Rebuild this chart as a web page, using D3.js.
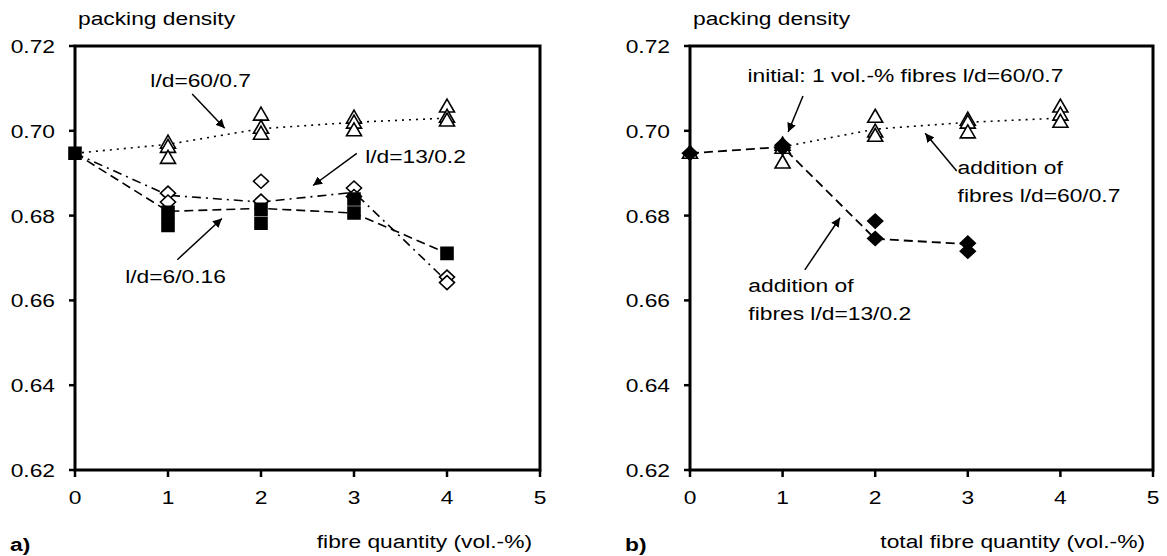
<!DOCTYPE html>
<html>
<head>
<meta charset="utf-8">
<script src="https://cdn.jsdelivr.net/npm/d3@7"></script>
<style>
  body { margin: 0; background: #fff; }
  text { font-family: Arial, "Liberation Sans", sans-serif; fill: #000; }
</style>
</head>
<body>
<div id="chart"></div>
<script>
// packing density vs fibre quantity, two panels

const xTicks = [0, 1, 2, 3, 4, 5];
const yTicks = [0.62, 0.64, 0.66, 0.68, 0.70, 0.72];
const yTickLabels = ["0.62", "0.64", "0.66", "0.68", "0.70", "0.72"];

// panel a) measured points [x, density]
const tri60 = [[1, 0.6971], [1, 0.6961], [1, 0.6935], [2, 0.7037], [2, 0.7006], [2, 0.6992],
  [3, 0.7030], [3, 0.7018], [3, 0.7000], [4, 0.7056], [4, 0.7032], [4, 0.7023]];
const dia13 = [[1, 0.6853], [1, 0.6832], [2, 0.6881], [2, 0.6834], [3, 0.6865], [3, 0.6845],
  [4, 0.6655], [4, 0.6642]];
const sq6 = [[0, 0.6947], [1, 0.6808], [1, 0.6777], [2, 0.6815], [2, 0.6782], [3, 0.6839],
  [3, 0.6806], [4, 0.6711]];
// panel a) trend lines
const lineXa = [0, 1, 2, 3, 4];
const line60 = [0.6947, 0.6968, 0.7005, 0.7020, 0.7030];
const line13 = [0.6947, 0.6848, 0.6832, 0.6855, 0.6645];
const line6 = [0.6947, 0.6810, 0.6817, 0.6806, 0.6711];

// panel b) measured points
const triB = [[0, 0.6947], [1, 0.6966], [1, 0.6959], [1, 0.6924], [2, 0.7032], [2, 0.6997],
  [2, 0.6987], [3, 0.7025], [3, 0.7018], [3, 0.6995], [4, 0.7056], [4, 0.7037], [4, 0.7020]];
const diaB = [[0, 0.6947], [1, 0.6966], [1, 0.6960], [2, 0.6787], [2, 0.6746], [3, 0.6735],
  [3, 0.6716]];
// panel b) trend lines
const lineXb60 = [1, 2, 3, 4];
const lineB60 = [0.6962, 0.7004, 0.7020, 0.7030];
const lineXb13 = [0, 1, 2, 3];
const lineB13 = [0.6947, 0.6962, 0.6745, 0.6733];

const W = 1167, H = 556;
const stretch = 1.2; // text in the original is a bit widened

const svg = d3.select("#chart").append("svg")
  .attr("width", W).attr("height", H);

function label(g, x, y, str, opts = {}) {
  const t = g.append("text")
    .attr("transform", `translate(${x},${y}) scale(${stretch},1)`)
    .attr("text-anchor", opts.anchor || "start")
    .style("font-size", (opts.size || 19) + "px")
    .text(str);
  if (opts.bold) t.style("font-weight", "bold");
  return t;
}

svg.append("defs").append("marker")
  .attr("id", "arr")
  .attr("viewBox", "0 0 10 10")
  .attr("refX", 10).attr("refY", 5)
  .attr("markerWidth", 9).attr("markerHeight", 9)
  .attr("markerUnits", "userSpaceOnUse")
  .attr("orient", "auto")
  .append("path").attr("d", "M0,0 L10,5 L0,10 Z").attr("fill", "#000");

const triPath = "M0,-8 L7.5,5 L-7.5,5 Z";
const diaPath = "M0,-7 L7.5,0 L0,7 L-7.5,0 Z";
const sqPath = "M-6,-6 L6,-6 L6,6 L-6,6 Z";

function panel(left, right, title, tag) {
  const g = svg.append("g");
  const x = d3.scaleLinear().domain([0, 5]).range([left, right]);
  const y = d3.scaleLinear().domain([0.62, 0.72]).range([470, 46]);

  // ticks
  g.selectAll(".yt").data(yTicks).enter().append("line")
    .attr("x1", left - 6).attr("x2", left)
    .attr("y1", d => y(d)).attr("y2", d => y(d))
    .attr("stroke", "#000").attr("stroke-width", 2.5);
  g.selectAll(".xt").data(xTicks).enter().append("line")
    .attr("x1", d => x(d)).attr("x2", d => x(d))
    .attr("y1", 470).attr("y2", 477)
    .attr("stroke", "#000").attr("stroke-width", 2.5);

  yTicks.forEach((d, i) => label(g, left - 20, y(d) + 7, yTickLabels[i], { anchor: "end" }));
  xTicks.forEach(d => label(g, x(d), 504, String(d), { anchor: "middle" }));

  label(g, left + 3, 25, "packing density");
  label(g, right - 8, 548, title, { anchor: "end" });
  label(g, left - 65, 551, tag, { bold: true });

  return { g, x, y };
}

function drawLine(p, xs, ys, dash, w) {
  const line = d3.line().x(d => p.x(d[0])).y(d => p.y(d[1]));
  p.g.append("path")
    .attr("d", line(xs.map((v, i) => [v, ys[i]])))
    .attr("fill", "none").attr("stroke", "#000")
    .attr("stroke-width", w || 1.6)
    .attr("stroke-dasharray", dash);
}

function drawPts(p, pts, path, filled) {
  p.g.selectAll(null).data(pts).enter().append("path")
    .attr("d", path)
    .attr("transform", d => `translate(${p.x(d[0])},${p.y(d[1])})`)
    .attr("fill", filled ? "#000" : "#fff")
    .attr("stroke", "#000").attr("stroke-width", 1.6);
}

function arrow(p, x1, y1, x2, y2) {
  p.g.append("line")
    .attr("x1", p.x(x1)).attr("y1", p.y(y1))
    .attr("x2", p.x(x2)).attr("y2", p.y(y2))
    .attr("stroke", "#000").attr("stroke-width", 1.5)
    .attr("marker-end", "url(#arr)");
}

function frame(p, left, right) {
  p.g.append("rect")
    .attr("x", left).attr("y", 46)
    .attr("width", right - left).attr("height", 470 - 46)
    .attr("fill", "none").attr("stroke", "#000").attr("stroke-width", 3);
}

// ---- panel a)
const a = panel(75, 540, "fibre quantity  (vol.-%)", "a)");
frame(a, 75, 540);
drawLine(a, lineXa, line60, "2,5");
drawLine(a, lineXa, line13, "9,5,2,5");
drawLine(a, lineXa, line6, "9,5");
drawPts(a, tri60, triPath, false);
drawPts(a, dia13, diaPath, false);
drawPts(a, sq6, sqPath, true);

label(a.g, a.x(0.81), a.y(0.7103), "l/d=60/0.7");
arrow(a, 1.26, 0.7087, 1.61, 0.7006);
label(a.g, a.x(3.12), a.y(0.6923), "l/d=13/0.2");
arrow(a, 3.03, 0.6947, 2.56, 0.6871);
label(a.g, a.x(0.54), a.y(0.6642), "l/d=6/0.16");
arrow(a, 1.10, 0.6696, 1.58, 0.6793);

// ---- panel b)
const b = panel(690, 1153, "total fibre quantity (vol.-%)", "b)");
frame(b, 690, 1153);
drawLine(b, lineXb60, lineB60, "2,5");
drawLine(b, lineXb13, lineB13, "9,5", 1.8);
drawPts(b, triB, triPath, false);
drawPts(b, diaB, diaPath, true);

label(b.g, b.x(0.62), b.y(0.7115), "initial: 1 vol.-% fibres l/d=60/0.7");
arrow(b, 1.22, 0.7082, 1.06, 0.6997);
label(b.g, b.x(2.89), b.y(0.6898), "addition of");
label(b.g, b.x(2.89), b.y(0.6832), "fibres l/d=60/0.7");
arrow(b, 2.88, 0.6905, 2.54, 0.6994);
label(b.g, b.x(0.63), b.y(0.6620), "addition of");
label(b.g, b.x(0.63), b.y(0.6554), "fibres l/d=13/0.2");
arrow(b, 1.24, 0.6672, 1.62, 0.6795);
</script>
</body>
</html>
